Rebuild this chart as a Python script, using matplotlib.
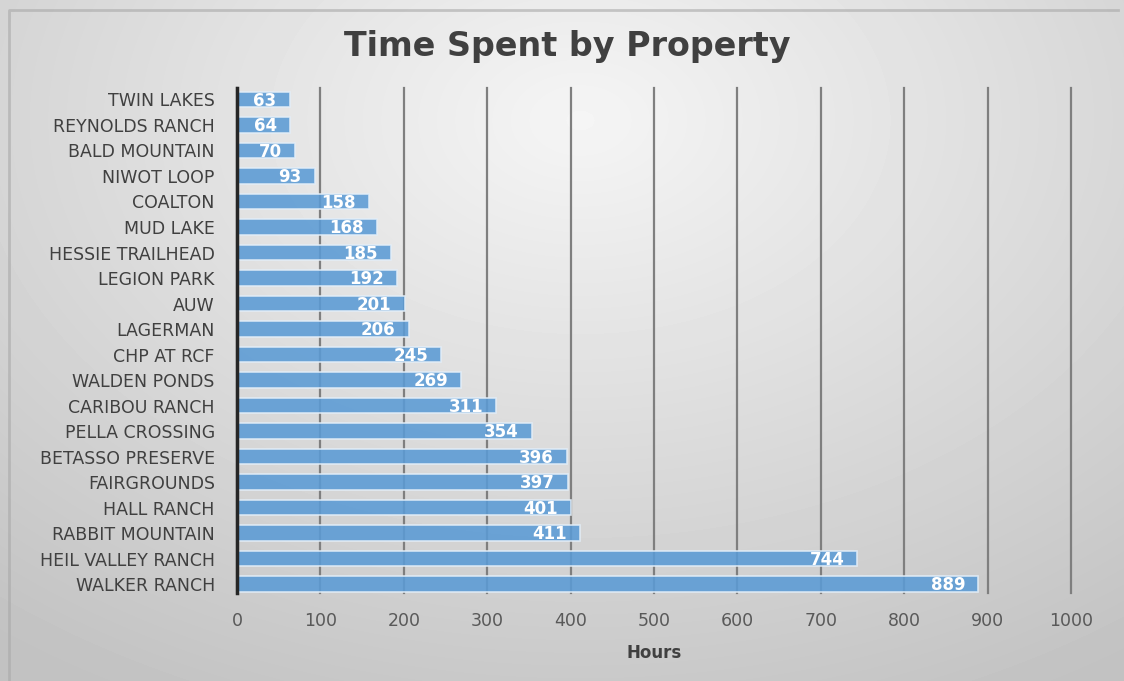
import numpy as np
import matplotlib.pyplot as plt

properties = ['WALKER RANCH', 'HEIL VALLEY RANCH', 'RABBIT MOUNTAIN', 'HALL RANCH',
              'FAIRGROUNDS', 'BETASSO PRESERVE', 'PELLA CROSSING', 'CARIBOU RANCH',
              'WALDEN PONDS', 'CHP AT RCF', 'LAGERMAN', 'AUW', 'LEGION PARK',
              'HESSIE TRAILHEAD', 'MUD LAKE', 'COALTON', 'NIWOT LOOP',
              'BALD MOUNTAIN', 'REYNOLDS RANCH', 'TWIN LAKES']
hours = [889, 744, 411, 401, 397, 396, 354, 311, 269, 245, 206, 201, 192,
         185, 168, 158, 93, 70, 64, 63]
xticks = list(range(0, 1001, 100))

plt.rcParams['font.family'] = ['DejaVu Sans']

fig = plt.figure(figsize=(11.24, 6.81), dpi=100)

# radial gradient background
bg = fig.add_axes([0, 0, 1, 1], zorder=-10)
yy, xx = np.mgrid[0:681, 0:1124]
d = np.sqrt(((xx - 580) / 900.0) ** 2 + ((yy - 120) / 620.0) ** 2)
shade = np.clip(0.96 - 0.19 * d, 0.76, 0.96)
bg.imshow(shade, cmap='gray', vmin=0, vmax=1, aspect='auto',
          extent=[0, 1, 0, 1], origin='upper')
bg.set_xlim(0, 1)
bg.set_ylim(0, 1)
bg.axis('off')
bg.plot([0.008, 0.008, 0.995], [0.0, 0.985, 0.985], color='#a8a8a8', lw=2, alpha=0.6)

ax = fig.add_axes([0.2109, 0.1292, 0.7419, 0.7416])
ax.patch.set_alpha(0)
y = np.arange(len(properties))
ax.barh(y, hours, height=0.62, color='#5b9bd5', alpha=0.88,
        edgecolor='#e3eef8', linewidth=1.2, zorder=3)
for yi, v in zip(y, hours):
    ax.annotate(str(v), (v, yi), xytext=(-9.5, -1), textcoords='offset points',
                ha='right', va='center', color='white', fontsize=12,
                fontweight='bold', zorder=4)

ax.set_xlim(0, 1000)
ax.set_ylim(-0.35, 19.45)
ax.set_xticks(xticks)
ax.set_yticks(y)
ax.set_yticklabels(properties, fontsize=12.5, color='#404040')
ax.tick_params(axis='x', labelsize=12.5, labelcolor='#595959', length=0, pad=14)
ax.tick_params(axis='y', length=0, pad=16)
ax.grid(axis='x', color='#7f7f7f', lw=1.6, zorder=1)
for gl in ax.get_xgridlines():
    gl.set_clip_on(False)
for s in ['top', 'right', 'bottom']:
    ax.spines[s].set_visible(False)
ax.spines['left'].set_color('#262626')
ax.spines['left'].set_linewidth(2.5)
ax.spines['left'].set_zorder(5)

ax.set_xlabel('Hours', fontsize=12, fontweight='bold', color='#404040', labelpad=10)
fig.text(0.505, 0.932, 'Time Spent by Property', ha='center', va='center',
         fontsize=24, fontweight='bold', color='#404040')

fig.savefig('out.png', dpi=100)
